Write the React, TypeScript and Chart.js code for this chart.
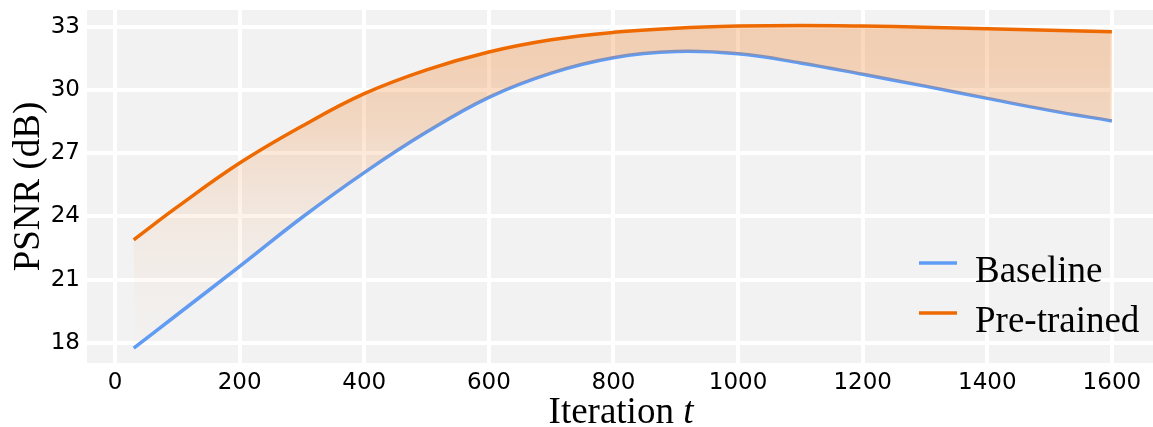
import React, { useEffect, useRef } from "react";
import { Chart, registerables } from "chart.js";

Chart.register(...registerables);

const iterations = [30, 100, 200, 300, 400, 500, 600, 700, 800, 900, 1000, 1100, 1200, 1300, 1400, 1500, 1600];
const baseline = [17.76, 19.35, 21.63, 23.95, 26.08, 28.0, 29.65, 30.8, 31.53, 31.82, 31.71, 31.28, 30.74, 30.18, 29.6, 29.03, 28.53];
const pretrained = [22.89, 24.45, 26.53, 28.28, 29.82, 30.95, 31.8, 32.38, 32.73, 32.93, 33.03, 33.06, 33.03, 32.97, 32.9, 32.83, 32.76];
const seriesLabels = ["Baseline", "Pre-trained"];
const xTicks = [0, 200, 400, 600, 800, 1000, 1200, 1400, 1600];
const yTicks = [18, 21, 24, 27, 30, 33];
const xTitleMain = "Iteration";
const xTitleVar = "t";
const yTitle = "PSNR (dB)";

const BLUE = "#5f9cf5";
const ORANGE = "#ee6a00";
const SERIF = "'Liberation Serif', 'Times New Roman', serif";
const SANS = "'DejaVu Sans', sans-serif";

const bgPlugin = {
  id: "plotBg",
  beforeDraw(chart: any) {
    const { ctx, chartArea } = chart;
    if (!chartArea) return;
    ctx.save();
    ctx.fillStyle = "#f2f2f2";
    ctx.fillRect(chartArea.left, chartArea.top, chartArea.right - chartArea.left, chartArea.bottom - chartArea.top);
    ctx.restore();
  },
};

const decorPlugin = {
  id: "decor",
  afterDraw(chart: any) {
    const { ctx, chartArea } = chart;
    if (!chartArea) return;
    ctx.save();
    ctx.fillStyle = "#000";
    ctx.textBaseline = "alphabetic";
    const fontMain = `37px ${SERIF}`;
    const fontVar = `italic 37px ${SERIF}`;
    ctx.font = fontMain;
    const w1 = ctx.measureText(xTitleMain + " ").width;
    ctx.font = fontVar;
    const w2 = ctx.measureText(xTitleVar).width;
    const cx = (chartArea.left + chartArea.right) / 2 + 1;
    const startX = cx - (w1 + w2) / 2;
    const by = chartArea.bottom + 60;
    ctx.textAlign = "left";
    ctx.font = fontMain;
    ctx.fillText(xTitleMain + " ", startX, by);
    ctx.font = fontVar;
    ctx.fillText(xTitleVar, startX + w1, by);

    const ds = chart.data.datasets;
    const rows = [chartArea.bottom - 100, chartArea.bottom - 50];
    ds.forEach((d: any, i: number) => {
      const ly = rows[i];
      ctx.strokeStyle = d.borderColor;
      ctx.lineWidth = 3.5;
      ctx.lineCap = "butt";
      ctx.beginPath();
      ctx.moveTo(chartArea.right - 234, ly);
      ctx.lineTo(chartArea.right - 196, ly);
      ctx.stroke();
      ctx.fillStyle = "#000";
      ctx.font = `37px ${SERIF}`;
      ctx.textAlign = "left";
      ctx.textBaseline = "alphabetic";
      ctx.fillText(d.label, chartArea.right - 178, ly + 19);
    });
    ctx.restore();
  },
};

function fillGradient(context: any) {
  const chart = context.chart;
  const { ctx, chartArea } = chart;
  if (!chartArea) return "rgba(238,106,0,0.2)";
  const g = ctx.createLinearGradient(0, chartArea.top, 0, chartArea.bottom);
  g.addColorStop(0, "rgba(238,106,0,0.27)");
  g.addColorStop(0.15, "rgba(238,106,0,0.25)");
  g.addColorStop(0.32, "rgba(238,106,0,0.20)");
  g.addColorStop(0.41, "rgba(238,106,0,0.15)");
  g.addColorStop(0.59, "rgba(238,106,0,0.075)");
  g.addColorStop(0.77, "rgba(238,106,0,0.03)");
  g.addColorStop(1, "rgba(238,106,0,0.0)");
  return g;
}

export default function App() {
  const ref = useRef<HTMLCanvasElement | null>(null);
  useEffect(() => {
    if (!ref.current) return;
    const chart = new Chart(ref.current, {
      type: "line",
      data: {
        datasets: [
          {
            label: seriesLabels[0],
            data: iterations.map((x, i) => ({ x, y: baseline[i] })),
            borderColor: BLUE,
            backgroundColor: BLUE,
            borderWidth: 3.5,
            pointRadius: 0,
            tension: 0.4,
            fill: false,
            order: 1,
          },
          {
            label: seriesLabels[1],
            data: iterations.map((x, i) => ({ x, y: pretrained[i] })),
            borderColor: ORANGE,
            backgroundColor: fillGradient,
            borderWidth: 3.5,
            pointRadius: 0,
            tension: 0.4,
            fill: "-1",
            order: 0,
          },
        ],
      },
      options: {
        animation: false,
        responsive: false,
        devicePixelRatio: 1,
        layout: { padding: { left: 0, right: 0, top: 10, bottom: 0 } },
        plugins: {
          legend: { display: false },
          tooltip: { enabled: false },
          filler: { propagate: false },
        },
        scales: {
          x: {
            type: "linear",
            min: -45,
            max: 1666,
            border: { display: false },
            grid: { color: "#ffffff", lineWidth: 4, drawTicks: false },
            afterBuildTicks: (s: any) => {
              s.ticks = xTicks.map((v) => ({ value: v }));
            },
            afterFit: (s: any) => {
              s.height = 64;
              s.paddingLeft = 0;
              s.paddingRight = 0;
            },
            ticks: {
              padding: 6,
              color: "#000",
              font: { family: SANS, size: 23 },
              maxRotation: 0,
              autoSkip: false,
              callback: (v: any) => String(v),
            },
            title: { display: false },
          },
          y: {
            type: "linear",
            min: 17.05,
            max: 33.79,
            border: { display: false },
            grid: { color: "#ffffff", lineWidth: 4, drawTicks: false },
            afterBuildTicks: (s: any) => {
              s.ticks = yTicks.map((v) => ({ value: v }));
            },
            afterFit: (s: any) => {
              s.width = 87;
              s.paddingTop = 0;
              s.paddingBottom = 0;
            },
            ticks: {
              padding: 7,
              color: "#000",
              font: { family: SANS, size: 23 },
              autoSkip: false,
              callback: (v: any) => String(v),
            },
            title: {
              display: true,
              text: yTitle,
              color: "#000",
              font: { family: SERIF, size: 37 },
              padding: { top: 7, bottom: 0 },
            },
          },
        },
      },
      plugins: [bgPlugin, decorPlugin],
    } as any);
    return () => chart.destroy();
  }, []);
  return (
    <div style={{ position: "absolute", left: 0, top: 0, width: 1153, height: 427, background: "#fff" }}>
      <canvas ref={ref} width={1153} height={427} style={{ display: "block" }} />
    </div>
  );
}
